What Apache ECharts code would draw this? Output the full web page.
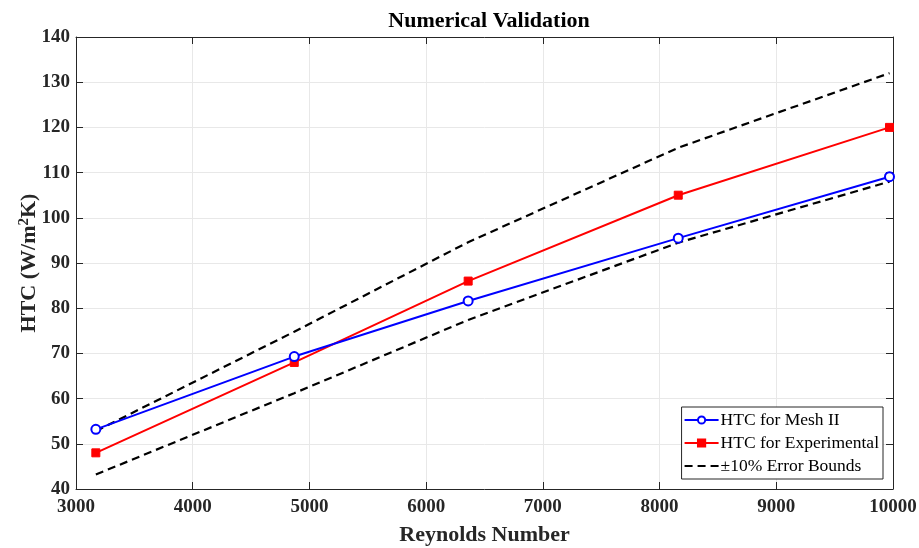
<!DOCTYPE html>
<html>
<head>
<meta charset="utf-8">
<script src="https://cdn.jsdelivr.net/npm/echarts@6/dist/echarts.min.js"></script>
<style>
  html, body { margin: 0; padding: 0; background: #fff; }
  #chart { width: 919px; height: 548px; }
</style>
</head>
<body>
<div id="chart"></div>
<script>
// Reynolds numbers of the five cases
const reynolds = [3170, 4870, 6360, 8160, 9970];
const meshII = [53.2, 69.3, 81.6, 95.5, 109.1];
const experimental = [48, 68, 86, 105, 120];
const upperBound = [52.8, 74.8, 94.6, 115.5, 132];
const lowerBound = [43.2, 61.2, 77.4, 94.5, 108];

const boundsName = "\u00b110% Error Bounds";
const font = "'Liberation Serif', 'Times New Roman', serif";
const ink = "#262626";

function pairs(ys) {
  return reynolds.map((x, i) => [x, ys[i]]);
}

const chart = echarts.init(document.getElementById("chart"), null, { renderer: "canvas" });

const tickStyle = { show: true, inside: true, length: 7, lineStyle: { color: ink, width: 1 } };
const dash = [8, 5];

chart.setOption({
  animation: false,
  backgroundColor: "#fff",
  title: {
    text: "Numerical Validation",
    left: 484,
    textAlign: "center",
    top: 5,
    textStyle: { fontFamily: font, fontWeight: "bold", fontSize: 22, color: "#000" }
  },
  grid: { left: 76, right: 26, top: 37, bottom: 59, outerBoundsMode: "none", containLabel: false },
  legend: {
    right: 36,
    bottom: 69,
    orient: "vertical",
    itemWidth: 34,
    itemHeight: 9,
    itemGap: 5,
    padding: [4, 4, 4, 2],
    backgroundColor: "#fff",
    borderColor: ink,
    borderWidth: 1,
    borderRadius: 0,
    textStyle: { fontFamily: font, fontSize: 17.5, color: "#000", padding: [0, 0, 0, -3] },
    data: [
      "HTC for Mesh II",
      "HTC for Experimental",
      { name: boundsName, itemStyle: { opacity: 0 } }
    ]
  },
  xAxis: [
    {
      type: "value",
      min: 3000, max: 10000, interval: 1000,
      name: "Reynolds Number",
      nameLocation: "middle",
      nameGap: 35,
      nameMoveOverlap: false,
      nameTextStyle: { fontFamily: font, fontWeight: "bold", fontSize: 22, color: ink },
      axisLine: { show: true, lineStyle: { color: ink, width: 1 } },
      axisTick: tickStyle,
      axisLabel: { fontFamily: font, fontWeight: "bold", fontSize: 19, color: ink, margin: 9, formatter: v => String(v) },
      splitLine: { show: true, lineStyle: { color: "#e8e8e8", width: 1 } }
    },
    {
      type: "value", position: "top",
      min: 3000, max: 10000, interval: 1000,
      axisLine: { show: true, onZero: false, lineStyle: { color: ink, width: 1 } },
      axisTick: tickStyle,
      axisLabel: { show: false },
      splitLine: { show: false }
    }
  ],
  yAxis: [
    {
      type: "value",
      min: 40, max: 140, interval: 10,
      name: "HTC (W/m{sup|2}K)",
      nameLocation: "middle",
      nameGap: 35,
      nameMoveOverlap: false,
      nameTextStyle: {
        fontFamily: font, fontWeight: "bold", fontSize: 22, color: ink,
        rich: {
          sup: { fontFamily: font, fontWeight: "bold", fontSize: 15, color: ink, verticalAlign: "bottom", padding: [0, 0, 9, 0] }
        }
      },
      axisLine: { show: true, lineStyle: { color: ink, width: 1 } },
      axisTick: tickStyle,
      axisLabel: { fontFamily: font, fontWeight: "bold", fontSize: 19, color: ink, margin: 6 },
      splitLine: { show: true, lineStyle: { color: "#e8e8e8", width: 1 } }
    },
    {
      type: "value", position: "right",
      min: 40, max: 140, interval: 10,
      axisLine: { show: true, onZero: false, lineStyle: { color: ink, width: 1 } },
      axisTick: tickStyle,
      axisLabel: { show: false },
      splitLine: { show: false }
    }
  ],
  series: [
    {
      name: boundsName,
      type: "line",
      data: pairs(upperBound),
      symbol: "none",
      lineStyle: { color: "#000", width: 2.2, type: dash },
      itemStyle: { color: "#000" },
      z: 1
    },
    {
      name: boundsName,
      type: "line",
      data: pairs(lowerBound),
      symbol: "none",
      lineStyle: { color: "#000", width: 2.2, type: dash },
      itemStyle: { color: "#000" },
      z: 1
    },
    {
      name: "HTC for Experimental",
      type: "line",
      data: pairs(experimental),
      symbol: "rect",
      symbolSize: 8,
      lineStyle: { color: "#ff0000", width: 2 },
      itemStyle: { color: "#ff0000", borderColor: "#ff0000", borderWidth: 1 },
      z: 3
    },
    {
      name: "HTC for Mesh II",
      type: "line",
      data: pairs(meshII),
      symbol: "circle",
      symbolSize: 9,
      lineStyle: { color: "#0000ff", width: 2 },
      itemStyle: { color: "#fff", borderColor: "#0000ff", borderWidth: 2 },
      z: 4
    }
  ]
});
</script>
</body>
</html>
